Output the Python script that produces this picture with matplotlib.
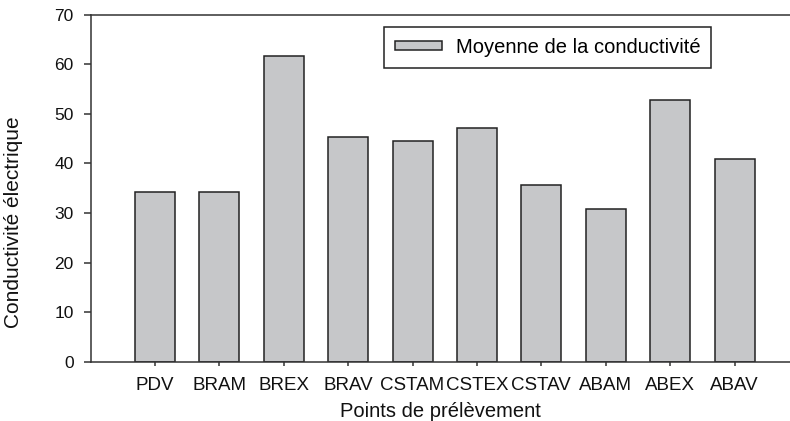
import matplotlib
matplotlib.use("Agg")
import matplotlib.pyplot as plt

categories = ["PDV", "BRAM", "BREX", "BRAV", "CSTAM", "CSTEX", "CSTAV", "ABAM", "ABEX", "ABAV"]
values = [34.2, 34.3, 61.6, 45.4, 44.6, 47.2, 35.6, 30.8, 52.7, 40.8]
yticks = [0, 10, 20, 30, 40, 50, 60, 70]
legend_label = "Moyenne de la conductivité"
xlabel = "Points de prélèvement"
ylabel = "Conductivité électrique"

plt.rcParams['font.family'] = ['Liberation Sans', 'DejaVu Sans']

fig = plt.figure(figsize=(7.9, 4.21), dpi=100)
ax = fig.add_axes([90.5/790, 1-361.7/421, 1-90.5/790, (361.7-14.7)/421])

x = list(range(len(categories)))
spine_col = "#333333"
ax.bar(x, values, width=0.62, color="#c6c7c9", edgecolor="#222222", linewidth=1.1,
       label=legend_label, zorder=2)

ax.set_xlim(-1.0, 9.86)
ax.set_ylim(0, 70)
ax.set_yticks(yticks)
ax.set_xticks(x)
ax.set_xticklabels(categories)

for s in ["left", "bottom", "top"]:
    ax.spines[s].set_color(spine_col)
    ax.spines[s].set_linewidth(1.1)
ax.spines["right"].set_visible(False)

ax.tick_params(axis="y", direction="out", length=5, width=1.1, color=spine_col,
               labelsize=12.5, pad=7, labelcolor="#111111")
ax.tick_params(axis="x", direction="out", length=3, width=1.1, color=spine_col,
               labelsize=13.5, pad=8, labelcolor="#111111")

ax.set_xlabel(xlabel, fontsize=14.5, labelpad=6, color="#111111")
ax.set_ylabel(ylabel, fontsize=15, color="#111111")
ax.yaxis.set_label_coords(-0.097, 0.401)

leg = fig.legend(loc="upper left", bbox_to_anchor=(384.3/790, 1-26.7/421),
                 borderaxespad=0, fancybox=False, edgecolor="#222222",
                 fontsize=14.5, handlelength=2.3, handleheight=0.35,
                 handletextpad=0.7, borderpad=0.55, framealpha=1)
leg.get_frame().set_linewidth(1.1)

fig.savefig("out.png", dpi=100)
